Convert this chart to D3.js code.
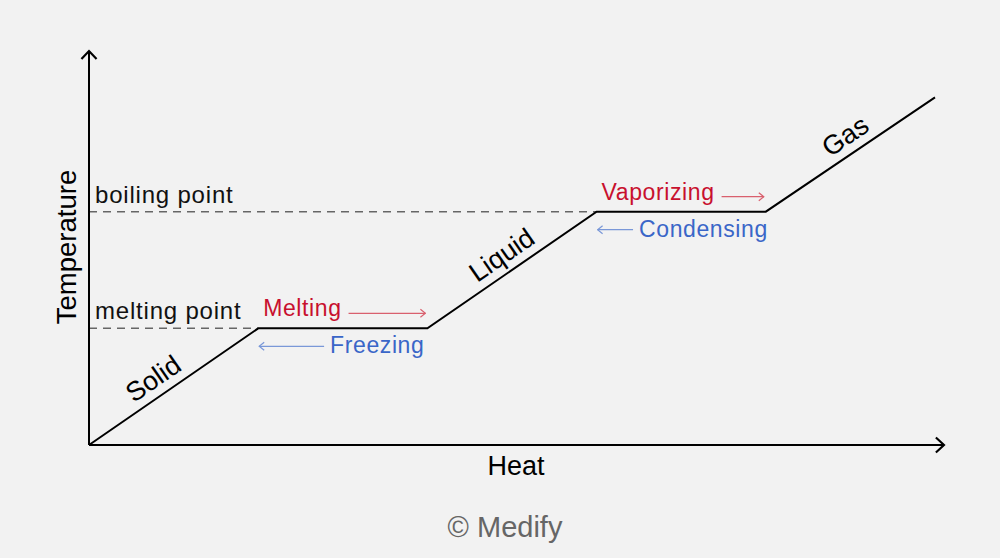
<!DOCTYPE html>
<html>
<head>
<meta charset="utf-8">
<script src="https://cdn.jsdelivr.net/npm/d3@7"></script>
<style>
  html, body { margin: 0; padding: 0; background: #f2f2f2; }
  svg { display: block; font-family: "Liberation Sans", Arial, sans-serif; }
</style>
</head>
<body>
<svg id="chart" width="1000" height="558"></svg>
<script>
// heating curve: heat vs temperature (arbitrary units)
const heat = [0, 1, 2, 3, 4, 5];
const temperature = [0, 1, 1, 2, 2, 2.98];
const pointNames = ["melting point", "boiling point"];
const pointTemps = [1, 2];
const pointEndHeat = [1, 3];
const phaseNames = ["Solid", "Liquid", "Gas"];
const phaseHeat = [0.44, 2.5, 4.53];
const forwardNames = ["Melting", "Vaporizing"];
const backwardNames = ["Freezing", "Condensing"];

const svg = d3.select("#chart");
const width = 1000, height = 558;

let x = d3.scaleLinear().domain([0, 5]).range([89, 935]);
let y = d3.scaleLinear().domain([0, 3]).range([445, 95]);

const red = "#c8102e", redArrow = "#d9606e";
const blue = "#3a66c8", blueArrow = "#7a98d8";

// arrow heads
const defs = svg.append("defs");
function head(id, color, w, path) {
  defs.append("marker")
    .attr("id", id).attr("viewBox", "0 0 10 10")
    .attr("refX", 9).attr("refY", 5)
    .attr("markerWidth", w).attr("markerHeight", w)
    .attr("markerUnits", "userSpaceOnUse")
    .attr("orient", "auto-start-reverse")
    .append("path").attr("d", path)
    .attr("fill", "none").attr("stroke", color).attr("stroke-width", 1.2);
}
head("axisHead", "#000", 18, "M4.5,0.8 L9,5 L4.5,9.2");
head("redHead", redArrow, 10, "M4,1 L9,5 L4,9");
head("blueHead", blueArrow, 10, "M4,1 L9,5 L4,9");

// dashed reference lines
pointTemps.forEach((t, i) => {
  svg.append("line")
    .attr("x1", x(0)).attr("x2", x(pointEndHeat[i]))
    .attr("y1", y(t)).attr("y2", y(t))
    .attr("stroke", "#666").attr("stroke-width", 1.5)
    .attr("stroke-dasharray", "8,6");
  svg.append("text")
    .attr("x", x(0) + 6).attr("y", y(t) - 9)
    .attr("font-size", 24).attr("fill", "#111")
    .style("letter-spacing", "0.8px")
    .text(pointNames[i]);
});

// axes with arrows
svg.append("line")
  .attr("x1", x(0)).attr("y1", y(0)).attr("x2", x(0)).attr("y2", 51)
  .attr("stroke", "#000").attr("stroke-width", 2)
  .attr("marker-end", "url(#axisHead)");
svg.append("line")
  .attr("x1", x(0)).attr("y1", y(0)).attr("x2", 944).attr("y2", y(0))
  .attr("stroke", "#000").attr("stroke-width", 2)
  .attr("marker-end", "url(#axisHead)");

svg.append("text")
  .attr("transform", "translate(76,247) rotate(-90)")
  .attr("text-anchor", "middle").attr("font-size", 27.5)
  .text("Temperature");
svg.append("text")
  .attr("x", 516).attr("y", 475)
  .attr("text-anchor", "middle").attr("font-size", 27)
  .text("Heat");

// the curve
let lineGen = d3.line().x((d, i) => x(heat[i])).y(d => y(d));
svg.append("path")
  .attr("d", lineGen(temperature))
  .attr("fill", "none").attr("stroke", "#000").attr("stroke-width", 2);

// phase labels along the slopes
const slope = (y(1) - y(0)) / (x(1) - x(0));
const angle = Math.atan(slope) * 180 / Math.PI;
phaseNames.forEach((name, i) => {
  let h = phaseHeat[i];
  let seg = i * 2;
  let t = temperature[seg] + (h - heat[seg]) * (temperature[seg + 1] - temperature[seg]) / (heat[seg + 1] - heat[seg]);
  svg.append("text")
    .attr("transform", "translate(" + x(h) + "," + y(t) + ") rotate(" + angle + ")")
    .attr("text-anchor", "middle").attr("dy", -9)
    .attr("font-size", 27)
    .text(name);
});

// plateau labels: forward (heating) above, backward (cooling) below
[1, 3].forEach((seg, i) => {
  let x0 = x(heat[seg]), x1 = x(heat[seg + 1]);
  let yy = y(temperature[seg]);
  let fw = svg.append("text")
    .attr("x", x0 + 5).attr("y", yy - 12)
    .attr("font-size", 23).attr("fill", red)
    .style("letter-spacing", "0.6px")
    .text(forwardNames[i]);
  let fwEnd = x0 + 5 + fw.node().getComputedTextLength() + 7;
  svg.append("line")
    .attr("x1", fwEnd).attr("x2", x1 - 2)
    .attr("y1", yy - 15).attr("y2", yy - 15)
    .attr("stroke", redArrow).attr("stroke-width", 1.3)
    .attr("marker-end", "url(#redHead)");

  let bx = x1 + (i === 1 ? 2 : -3);
  let bw = svg.append("text")
    .attr("x", bx).attr("y", yy + 25)
    .attr("text-anchor", "end")
    .attr("font-size", 23).attr("fill", blue)
    .style("letter-spacing", "0.6px")
    .text(backwardNames[i]);
  let bwStart = bx - bw.node().getComputedTextLength() - 6;
  svg.append("line")
    .attr("x1", bwStart).attr("x2", x0 + 1)
    .attr("y1", yy + 18).attr("y2", yy + 18)
    .attr("stroke", blueArrow).attr("stroke-width", 1.3)
    .attr("marker-end", "url(#blueHead)");
});

svg.append("text")
  .attr("x", 505).attr("y", 537)
  .attr("text-anchor", "middle").attr("font-size", 29)
  .attr("fill", "#666")
  .text("© Medify");
</script>
</body>
</html>
